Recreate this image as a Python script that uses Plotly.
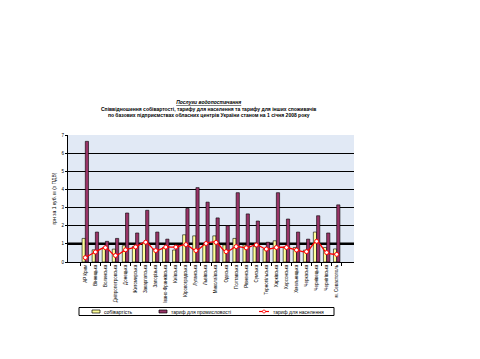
import plotly.graph_objects as go

categories = ["АР Крим", "Вінницька", "Волинська", "Дніпропетровська", "Донецька",
              "Житомирська", "Закарпатська", "Запорізька", "Івано-Франківська", "Київська",
              "Кіровоградська", "Луганська", "Львівська", "Миколаївська", "Одеська",
              "Полтавська", "Рівненська", "Сумська", "Тернопільська", "Харківська",
              "Херсонська", "Хмельницька", "Черкаська", "Чернівецька", "Чернігівська",
              "м. Севастополь"]

sobivartist = [1.3, 0.67, 0.78, 0.71, 0.9, 0.85, 1.05, 0.7, 0.8, 0.66,
               1.5, 1.44, 0.95, 1.44, 0.94, 1.3, 0.94, 0.85, 0.72, 1.17,
               0.83, 0.8, 0.65, 1.65, 0.8, 0.72]

taryf_prom = [6.65, 1.65, 1.14, 1.3, 2.7, 1.6, 2.85, 1.65, 1.26, 0.95,
              2.95, 4.1, 3.3, 2.43, 2.0, 3.82, 2.65, 2.26, 1.09, 3.82,
              2.37, 1.65, 1.26, 2.55, 1.6, 3.15]

taryf_nas = [0.24, 0.55, 0.79, 0.36, 0.67, 0.83, 1.09, 0.63, 0.82, 0.82,
             0.96, 0.63, 1.02, 1.08, 0.57, 0.85, 0.78, 0.94, 0.71, 0.8,
             0.8, 0.66, 0.57, 1.14, 0.52, 0.42]

y_ticks = [0, 1, 2, 3, 4, 5, 6, 7]
series_names = ["собівартість", "тариф для промисловості", "тариф для населення"]

FONT = "Liberation Sans, Arial, sans-serif"
YELLOW = "#ffff99"
PLUM = "#993366"

# the page body adds an 8px margin; lay out in screenshot pixels and compensate
OFF = 8
W, H = 480 - OFF, 359 - OFF
L, R, T, B = 68, 354, 135, 262          # plot area in screenshot pixels


def px(x):
    return (x - L) / (R - L)


def py(y):
    return (B - y) / (B - T)


fig = go.Figure()
fig.add_trace(go.Bar(x=categories, y=sobivartist, name=series_names[0], showlegend=False,
                     marker=dict(color=YELLOW, line=dict(color="black", width=0.6))))
fig.add_trace(go.Bar(x=categories, y=taryf_prom, name=series_names[1], showlegend=False,
                     marker=dict(color=PLUM, line=dict(color="black", width=0.6))))
fig.add_trace(go.Scatter(x=categories, y=taryf_nas, name=series_names[2], showlegend=False,
                         mode="lines+markers", line=dict(color="red", width=1.3, shape="spline"),
                         marker=dict(symbol="circle", size=4, color="white",
                                     line=dict(color="red", width=1))))

# thick reference line at 1
fig.add_shape(type="line", xref="paper", yref="y", x0=0, x1=1, y0=1, y1=1,
              line=dict(color="black", width=2.5), layer="below")

# legend box
ly = 311.5
fig.add_shape(type="rect", xref="paper", yref="paper", x0=px(79), x1=px(334),
              y0=py(307.5), y1=py(315.5), line=dict(color="black", width=1),
              fillcolor="white")
fig.add_shape(type="rect", xref="paper", yref="paper", x0=px(92), x1=px(100),
              y0=py(310), y1=py(313), line=dict(color="black", width=0.7), fillcolor=YELLOW)
fig.add_shape(type="rect", xref="paper", yref="paper", x0=px(159), x1=px(167),
              y0=py(310), y1=py(313), line=dict(color="black", width=0.7), fillcolor=PLUM)
fig.add_shape(type="line", xref="paper", yref="paper", x0=px(259), x1=px(269),
              y0=py(ly), y1=py(ly), line=dict(color="red", width=1.2))
fig.add_shape(type="circle", xref="paper", yref="paper", x0=px(262.5), x1=px(265.5),
              y0=py(ly + 1.5), y1=py(ly - 1.5), line=dict(color="red", width=0.8),
              fillcolor="white")
for name, x in zip(series_names, [101.5, 168.5, 270.5]):
    fig.add_annotation(xref="paper", yref="paper", x=px(x), y=py(ly), xanchor="left",
                       yanchor="middle", showarrow=False, text=name,
                       font=dict(size=5, family=FONT, color="black"))

fig.update_layout(
    width=W, height=H,
    margin=dict(l=L - OFF, r=W - (R - OFF), t=T - OFF, b=H - (B - OFF)),
    paper_bgcolor="white",
    plot_bgcolor="#e1e9f5",
    barmode="group", bargap=0.36, bargroupgap=0,
    font=dict(family=FONT, size=5, color="black"),
    showlegend=False,
    xaxis=dict(type="category", showline=True, linecolor="black", linewidth=1,
               ticks="outside", ticklen=3, tickcolor="black", tickson="boundaries",
               tickangle=-90, tickfont=dict(size=4.5, family=FONT), showgrid=False,
               automargin=False),
    yaxis=dict(range=[0, 7], tickvals=y_ticks, showline=True, linecolor="black",
               linewidth=1, ticks="outside", ticklen=2, tickcolor="black",
               showgrid=True, gridcolor="black", gridwidth=0.8,
               tickfont=dict(size=4.5, family=FONT), zeroline=False, automargin=False,
               title=dict(text="грн за 1 куб. м (з ПДВ)", font=dict(size=5), standoff=4)),
)

fig.add_annotation(xref="paper", yref="paper", x=px(208), y=py(109), xanchor="center",
                   yanchor="middle", showarrow=False, align="center",
                   font=dict(size=5, family=FONT, color="black"),
                   text="<b><i><u>Послуги водопостачання</u></i></b><br>"
                        "<b>Співвідношення собівартості, тарифу для населення та тарифу для інших споживачів</b><br>"
                        "<b>по базових підприємствах обласних центрів України станом на 1 січня 2008 року</b>")

fig.write_html("out.html")
